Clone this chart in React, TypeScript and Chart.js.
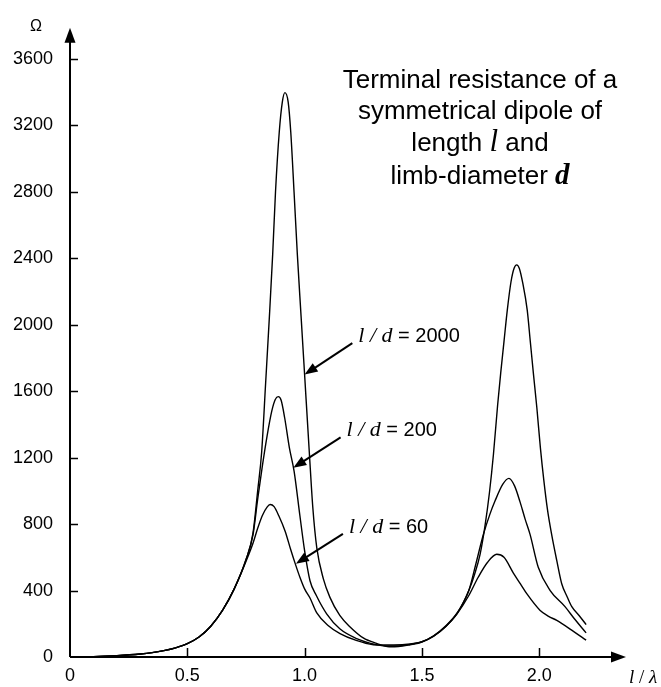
import React, { useEffect, useRef } from "react";
import { Chart, registerables } from "chart.js";

Chart.register(...registerables);

// ---- data ----
const xTicks = [0, 0.5, 1.0, 1.5, 2.0];
const xTickLabels = ["0", "0.5", "1.0", "1.5", "2.0"];
const yTicks = [0, 400, 800, 1200, 1600, 2000, 2400, 2800, 3200, 3600];

const x2000 = [0, 0.1, 0.2, 0.3, 0.35, 0.4, 0.45, 0.5, 0.55, 0.6, 0.65, 0.7, 0.75, 0.78, 0.8, 0.817, 0.834, 0.85, 0.864, 0.876, 0.892, 0.905, 0.916, 0.93, 0.941, 0.955, 0.969, 0.985, 1.0, 1.02, 1.035, 1.052, 1.08, 1.108, 1.15, 1.194, 1.25, 1.307, 1.36, 1.4, 1.45, 1.5, 1.55, 1.6, 1.65, 1.7, 1.725, 1.748, 1.768, 1.788, 1.805, 1.823, 1.836, 1.85, 1.864, 1.88, 1.893, 1.904, 1.915, 1.93, 1.949, 1.962, 1.975, 1.99, 2.005, 2.02, 2.035, 2.053, 2.075, 2.096, 2.12, 2.139, 2.17, 2.2];
const r2000 = [0, 2, 8, 18, 26, 38, 55, 80, 120, 185, 280, 410, 585, 745, 1000, 1234, 1651, 2050, 2425, 2800, 3160, 3340, 3397, 3340, 3160, 2800, 2425, 2050, 1700, 1234, 900, 657, 470, 359, 250, 181, 115, 82, 62, 63, 74, 90, 126, 182, 262, 400, 500, 618, 780, 990, 1220, 1520, 1710, 1900, 2088, 2260, 2340, 2360, 2340, 2250, 2088, 1900, 1710, 1500, 1260, 1060, 890, 738, 580, 441, 360, 303, 250, 195];

const x200 = [0, 0.1, 0.2, 0.3, 0.35, 0.4, 0.45, 0.5, 0.55, 0.6, 0.65, 0.7, 0.75, 0.78, 0.8, 0.82, 0.84, 0.86, 0.875, 0.888, 0.9, 0.915, 0.935, 0.955, 0.98, 1.0, 1.023, 1.05, 1.094, 1.15, 1.222, 1.3, 1.35, 1.4, 1.45, 1.5, 1.55, 1.6, 1.65, 1.7, 1.73, 1.762, 1.79, 1.812, 1.845, 1.871, 1.895, 1.918, 1.94, 1.961, 1.996, 2.046, 2.11, 2.15, 2.2];
const r200 = [0, 2, 8, 18, 26, 38, 55, 80, 120, 185, 280, 410, 585, 735, 950, 1150, 1330, 1480, 1550, 1567, 1545, 1440, 1260, 1120, 850, 640, 459, 370, 260, 170, 111, 76, 66, 67, 76, 92, 128, 185, 265, 400, 560, 737, 860, 940, 1040, 1075, 1030, 935, 830, 738, 540, 401, 303, 230, 145];

const x60 = [0, 0.1, 0.2, 0.3, 0.35, 0.4, 0.45, 0.5, 0.55, 0.6, 0.65, 0.7, 0.75, 0.78, 0.8, 0.82, 0.84, 0.853, 0.87, 0.89, 0.917, 0.94, 0.96, 0.98, 1.0, 1.023, 1.052, 1.1, 1.151, 1.22, 1.293, 1.33, 1.38, 1.45, 1.5, 1.55, 1.6, 1.65, 1.7, 1.74, 1.78, 1.819, 1.85, 1.89, 1.92, 1.947, 2.003, 2.04, 2.075, 2.14, 2.2];
const r60 = [0, 2, 8, 18, 26, 38, 55, 80, 120, 185, 280, 410, 575, 685, 775, 852, 902, 918, 905, 850, 757, 650, 562, 480, 410, 355, 265, 190, 141, 100, 74, 72, 72, 78, 92, 125, 180, 260, 370, 480, 570, 618, 600, 505, 440, 381, 282, 245, 220, 160, 102];

const ratioLabels = ["2000", "200", "60"];

// annotation anchors in data space (text start x, text baseline y, arrow tip)
const annotTextX = [1.229, 1.179, 1.189];
const annotBaseY = [1895, 1328, 747];
const annotTipX = [1.0, 0.952, 0.963];
const annotTipY = [1700, 1139, 562];

const titleLines = ["Terminal resistance of a", "symmetrical dipole of", "length ", "limb-diameter "];

const SANS = "'Liberation Sans', Arial, Helvetica, sans-serif";
const SERIF = "'Liberation Serif', 'Times New Roman', serif";

type Seg = { t: string; f: string };

function drawRich(ctx: CanvasRenderingContext2D, segs: Seg[], x: number, y: number, align: "center" | "left") {
  let total = 0;
  for (const s of segs) {
    ctx.font = s.f;
    total += ctx.measureText(s.t).width;
  }
  let cx = align === "center" ? x - total / 2 : x;
  ctx.textAlign = "left";
  ctx.textBaseline = "alphabetic";
  for (const s of segs) {
    ctx.font = s.f;
    ctx.fillText(s.t, cx, y);
    cx += ctx.measureText(s.t).width;
  }
}

function arrowHead(ctx: CanvasRenderingContext2D, fromX: number, fromY: number, toX: number, toY: number, len: number, half: number) {
  const ang = Math.atan2(toY - fromY, toX - fromX);
  const bx = toX - len * Math.cos(ang);
  const by = toY - len * Math.sin(ang);
  ctx.beginPath();
  ctx.moveTo(toX, toY);
  ctx.lineTo(bx + half * Math.sin(ang), by - half * Math.cos(ang));
  ctx.lineTo(bx - half * Math.sin(ang), by + half * Math.cos(ang));
  ctx.closePath();
  ctx.fill();
}

const decorPlugin = {
  id: "decor",
  afterDraw(chart: any) {
    const ctx: CanvasRenderingContext2D = chart.ctx;
    const { left, right, top, bottom } = chart.chartArea;
    const xs = chart.scales.x;
    const ys = chart.scales.y;
    ctx.save();
    ctx.strokeStyle = "#000";
    ctx.fillStyle = "#000";
    // axes
    ctx.lineWidth = 2;
    ctx.beginPath();
    ctx.moveTo(left, bottom);
    ctx.lineTo(right - 8, bottom);
    ctx.moveTo(left, bottom);
    ctx.lineTo(left, top + 8);
    ctx.stroke();
    arrowHead(ctx, left, bottom, right, bottom, 15, 5.5);
    arrowHead(ctx, left, bottom, left, top, 15, 5.5);
    // tick marks
    ctx.lineWidth = 1.5;
    ctx.beginPath();
    for (const v of yTicks) {
      if (v === 0) continue;
      const py = Math.round(ys.getPixelForValue(v)) + 0.5;
      ctx.moveTo(left, py);
      ctx.lineTo(left + 8, py);
    }
    for (const v of xTicks) {
      if (v === 0) continue;
      const px = Math.round(xs.getPixelForValue(v)) + 0.5;
      ctx.moveTo(px, bottom);
      ctx.lineTo(px, bottom - 9);
    }
    ctx.stroke();

    // axis titles
    ctx.font = `16px ${SANS}`;
    ctx.textAlign = "center";
    ctx.textBaseline = "alphabetic";
    ctx.fillText("Ω", left - 34, top + 3);
    drawRich(
      ctx,
      [
        { t: "l", f: `italic 19px ${SERIF}` },
        { t: " / ", f: `19px ${SERIF}` },
        { t: "λ", f: `italic 19px ${SERIF}` },
      ],
      right + 3,
      bottom + 26,
      "left"
    );

    // title
    const tx = left + 410;
    const f26 = `26px ${SANS}`;
    drawRich(ctx, [{ t: titleLines[0], f: f26 }], tx, top + 60, "center");
    drawRich(ctx, [{ t: titleLines[1], f: f26 }], tx, top + 91, "center");
    drawRich(
      ctx,
      [
        { t: titleLines[2], f: f26 },
        { t: "l", f: `italic 31px ${SERIF}` },
        { t: " and", f: f26 },
      ],
      tx,
      top + 123,
      "center"
    );
    drawRich(
      ctx,
      [
        { t: titleLines[3], f: f26 },
        { t: "d", f: `bold italic 29px ${SERIF}` },
      ],
      tx,
      top + 156,
      "center"
    );

    // annotations
    for (let i = 0; i < ratioLabels.length; i++) {
      const px = xs.getPixelForValue(annotTextX[i]);
      const py = ys.getPixelForValue(annotBaseY[i]);
      const tipx = xs.getPixelForValue(annotTipX[i]);
      const tipy = ys.getPixelForValue(annotTipY[i]);
      drawRich(
        ctx,
        [
          { t: "l", f: `italic 22px ${SERIF}` },
          { t: " / ", f: `italic 22px ${SERIF}` },
          { t: "d", f: `italic 22px ${SERIF}` },
          { t: " = " + ratioLabels[i], f: `20px ${SANS}` },
        ],
        px,
        py,
        "left"
      );
      const tailx = px - 6;
      const taily = py + 1;
      ctx.lineWidth = 2;
      ctx.beginPath();
      ctx.moveTo(tailx, taily);
      const ang = Math.atan2(tipy - taily, tipx - tailx);
      ctx.lineTo(tipx - 10 * Math.cos(ang), tipy - 10 * Math.sin(ang));
      ctx.stroke();
      arrowHead(ctx, tailx, taily, tipx, tipy, 13, 5);
    }
    ctx.restore();
  },
};

export default function App() {
  const ref = useRef<HTMLCanvasElement>(null);
  useEffect(() => {
    document.body.style.margin = "0";
    const canvas = ref.current;
    if (!canvas) return;
    const mk = (xsArr: number[], ysArr: number[], label: string) => ({
      label,
      data: xsArr.map((x, i) => ({ x, y: ysArr[i] })),
      borderColor: "#000",
      borderWidth: 1.4,
      pointRadius: 0,
      fill: false,
      cubicInterpolationMode: "monotone" as const,
    });
    const tickFont = { family: SANS, size: 18 };
    const chart = new Chart(canvas, {
      type: "line",
      data: {
        datasets: [
          mk(x2000, r2000, "l/d = 2000"),
          mk(x200, r200, "l/d = 200"),
          mk(x60, r60, "l/d = 60"),
        ],
      },
      options: {
        animation: false,
        responsive: false,
        devicePixelRatio: 1,
        layout: { padding: { left: 0, right: 35, top: 22, bottom: 0 } },
        plugins: { legend: { display: false }, tooltip: { enabled: false } },
        scales: {
          x: {
            type: "linear",
            min: 0,
            max: 2.37,
            grid: { display: false, drawTicks: false },
            border: { display: false },
            ticks: {
              font: tickFont,
              color: "#000",
              padding: 8,
              autoSkip: false,
              maxRotation: 0,
              callback: (v: any) => {
                const i = xTicks.indexOf(Number(v));
                return i >= 0 ? xTickLabels[i] : "";
              },
            },
            afterBuildTicks: (s: any) => {
              s.ticks = xTicks.map((v) => ({ value: v }));
            },
            afterFit: (s: any) => {
              s.height = 30;
            },
          },
          y: {
            type: "linear",
            min: 0,
            max: 3787,
            grid: { display: false, drawTicks: false },
            border: { display: false },
            ticks: {
              font: tickFont,
              color: "#000",
              padding: 17,
              autoSkip: false,
              callback: (v: any) => String(v),
            },
            afterBuildTicks: (s: any) => {
              s.ticks = yTicks.map((v) => ({ value: v }));
            },
            afterFit: (s: any) => {
              s.width = 70;
            },
          },
        },
      },
      plugins: [decorPlugin],
    });
    return () => chart.destroy();
  }, []);
  return (
    <div style={{ width: 661, height: 687, background: "#fff" }}>
      <canvas ref={ref} width={661} height={687} style={{ display: "block" }} />
    </div>
  );
}
